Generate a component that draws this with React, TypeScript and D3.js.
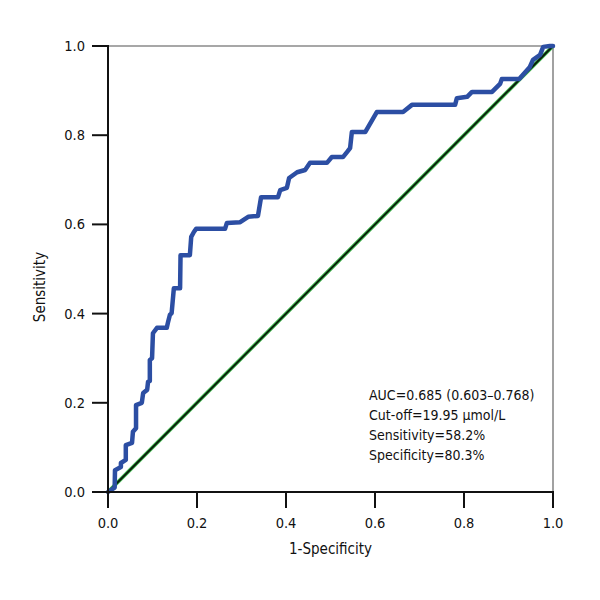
import React from "react";
import * as d3 from "d3";

const fprValues = [0, 0.015, 0.0157, 0.029, 0.029, 0.04, 0.04, 0.054, 0.056, 0.063, 0.063, 0.076, 0.079, 0.088, 0.09, 0.094, 0.094, 0.099, 0.101, 0.11, 0.132, 0.135, 0.139, 0.143, 0.148, 0.162, 0.163, 0.184, 0.187, 0.193, 0.198, 0.263, 0.267, 0.297, 0.315, 0.337, 0.344, 0.382, 0.387, 0.402, 0.407, 0.425, 0.443, 0.454, 0.492, 0.503, 0.528, 0.537, 0.544, 0.548, 0.578, 0.604, 0.663, 0.683, 0.78, 0.784, 0.807, 0.818, 0.863, 0.881, 0.885, 0.924, 0.948, 0.955, 0.971, 0.978, 0.993, 1];
const tprValues = [0, 0.01, 0.049, 0.056, 0.065, 0.072, 0.105, 0.11, 0.135, 0.143, 0.195, 0.2, 0.222, 0.229, 0.247, 0.249, 0.296, 0.3, 0.356, 0.368, 0.368, 0.381, 0.397, 0.401, 0.457, 0.457, 0.531, 0.531, 0.572, 0.583, 0.59, 0.59, 0.603, 0.605, 0.617, 0.619, 0.661, 0.661, 0.677, 0.682, 0.704, 0.717, 0.722, 0.738, 0.738, 0.751, 0.751, 0.762, 0.771, 0.807, 0.807, 0.852, 0.852, 0.868, 0.868, 0.883, 0.886, 0.897, 0.897, 0.915, 0.926, 0.926, 0.953, 0.969, 0.98, 0.998, 1, 1];
const tickValues = [0, 0.2, 0.4, 0.6, 0.8, 1.0];
const annotationLines = [
  "AUC=0.685 (0.603–0.768)",
  "Cut-off=19.95 μmol/L",
  "Sensitivity=58.2%",
  "Specificity=80.3%",
];
const xTitle = "1-Specificity";
const yTitle = "Sensitivity";

const FONT = "'Liberation Sans Narrow', 'DejaVu Sans Condensed', 'Roboto Condensed', sans-serif";

export default function App() {
  const left = 108, right = 553, top = 46, bottom = 492;
  const x = d3.scaleLinear().domain([0, 1]).range([left, right]);
  const y = d3.scaleLinear().domain([0, 1]).range([bottom, top]);
  const pts: [number, number][] = fprValues.map((f, i) => [f, tprValues[i]]);
  const line = d3.line<[number, number]>().x((d) => x(d[0])).y((d) => y(d[1]));
  const diag = line([[0, 0], [1, 1]]) || "";
  const tickLen = 16;

  return (
    <svg width={600} height={600} style={{ position: "absolute", left: 0, top: 0, background: "#fff" }}>
      <line x1={left} x2={right} y1={top} y2={top} stroke="#8a8a8a" strokeWidth={1.6} />
      <line x1={right} x2={right} y1={top} y2={bottom} stroke="#8a8a8a" strokeWidth={1.6} />
      <path d={diag} stroke="#3cb44b" strokeWidth={3.8} fill="none" />
      <path d={diag} stroke="#0a1a0a" strokeWidth={1.8} fill="none" />
      <path d={line(pts) || ""} stroke="#2c4ea3" strokeWidth={4.5} fill="none" strokeLinejoin="round" strokeLinecap="round" />
      <line x1={left} x2={left} y1={top - 1} y2={bottom + 1} stroke="#111" strokeWidth={2} />
      <line x1={left - 1} x2={right + 1} y1={bottom} y2={bottom} stroke="#111" strokeWidth={2} />
      {tickValues.map((t) => (
        <g key={"y" + t}>
          <line x1={left - tickLen} x2={left} y1={y(t)} y2={y(t)} stroke="#111" strokeWidth={2} />
          <text x={85} y={y(t) + 5} textAnchor="end" fontFamily={FONT} fontSize={14.5} fill="#111">
            {t.toFixed(1)}
          </text>
        </g>
      ))}
      {tickValues.map((t) => (
        <g key={"x" + t}>
          <line x1={x(t)} x2={x(t)} y1={bottom} y2={bottom + tickLen} stroke="#111" strokeWidth={2} />
          <text x={x(t)} y={528} textAnchor="middle" fontFamily={FONT} fontSize={14.5} fill="#111">
            {t.toFixed(1)}
          </text>
        </g>
      ))}
      <text x={(left + right) / 2} y={554} textAnchor="middle" fontFamily={FONT} fontSize={15} fill="#111">
        {xTitle}
      </text>
      <text transform={`translate(45,287) rotate(-90)`} textAnchor="middle" fontFamily={FONT} fontSize={15} fill="#111">
        {yTitle}
      </text>
      {annotationLines.map((s, i) => (
        <text key={s} x={369} y={400 + i * 20} fontFamily={FONT} fontSize={14} fill="#111">
          {s}
        </text>
      ))}
    </svg>
  );
}
